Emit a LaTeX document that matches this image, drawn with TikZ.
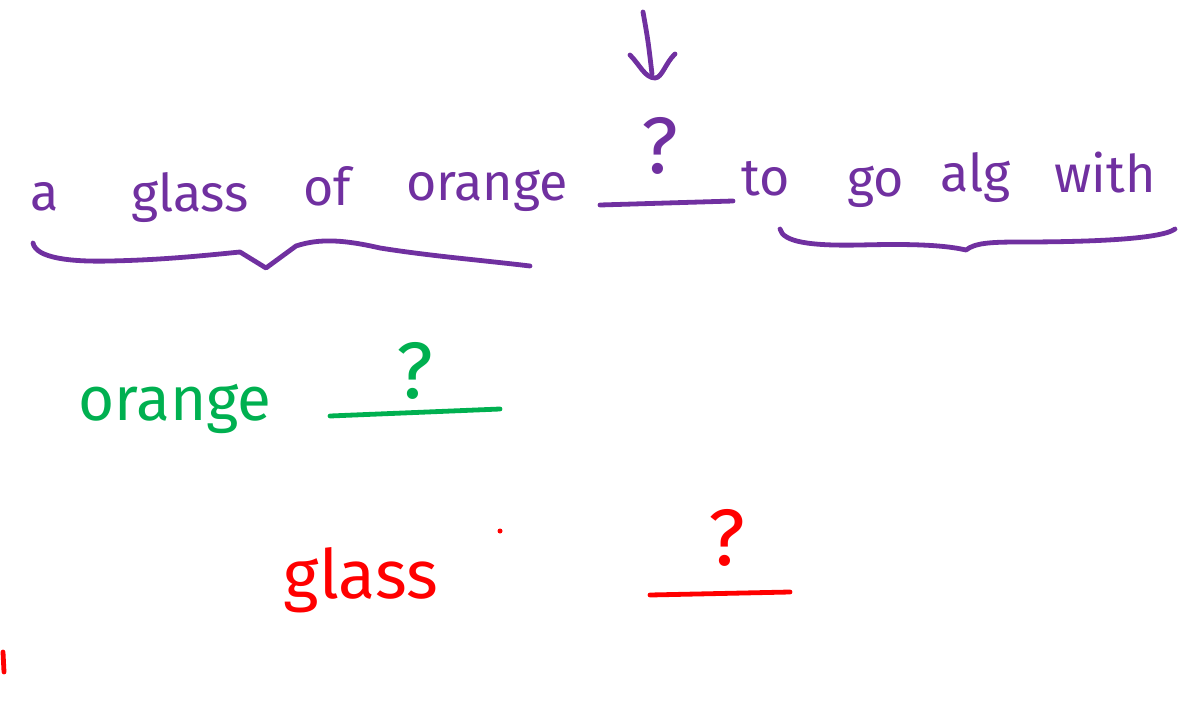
\documentclass[tikz,border=0pt]{standalone}
\usepackage{fontspec}
\setmainfont{Fira Sans}
\definecolor{pen}{HTML}{7030A0}
\definecolor{gpen}{HTML}{00B050}
\definecolor{rpen}{HTML}{FF0000}
\begin{document}
\begin{tikzpicture}[x=0.5pt,y=-0.5pt,
  stroke/.style={line width=2.4pt,line cap=round,line join=round},
  word/.style={anchor=base,inner sep=0pt,font=\fontsize{26}{30}\selectfont},
  bigword/.style={anchor=base,inner sep=0pt,font=\fontsize{31}{36}\selectfont},
  qmark/.style={anchor=base,inner sep=0pt,font=\fontsize{40}{44}\selectfont}]
\useasboundingbox (0,0) rectangle (1178,728);
% top line
\node[word,text=pen] (w1) at (45,210) {a};
\node[word,text=pen] (w2) at (190,211) {glass};
\node[word,text=pen] (w3) at (327,205) {of};
\node[word,text=pen] (w4) at (487,200) {orange};
\node[qmark,text=pen] (q1) at (660,173) {?};
\draw[stroke,pen] (600,205) -- (733,201);
\node[word,text=pen] (w5) at (766,195) {to};
\node[word,text=pen] (w6) at (876,196) {go};
\node[word,text=pen] (w7) at (976,191) {alg};
\node[word,text=pen] (w8) at (1105,192) {with};
% arrow
\draw[stroke,pen] (643,12) .. controls (648,40) .. (652,74);
\draw[stroke,pen] (630,55) .. controls (640,65) and (645,78) .. (655,78) .. controls (662,78) and (666,62) .. (675,54);
% braces
\draw[stroke,pen] (33,243) .. controls (36,258) and (70,262) .. (110,261)
  .. controls (160,260) and (200,256) .. (240,252) -- (266,268) -- (296,246)
  .. controls (320,238) and (345,240) .. (380,248) .. controls (430,256) and (480,260) .. (530,266);
\draw[stroke,pen] (780,229) .. controls (783,242) and (810,246) .. (860,245)
  .. controls (900,244) and (940,244) .. (966,250) .. controls (975,243) and (990,242) .. (1020,242)
  .. controls (1080,242) and (1160,240) .. (1175,229);
% green
\node[bigword,text=gpen] (g1) at (175,420) {orange};
\node[qmark,text=gpen] (q2) at (415,398) {?};
\draw[stroke,gpen] (330,416) -- (500,409);
% red
\node[bigword,text=rpen,font=\fontsize{34}{38}\selectfont] (r1) at (361,598) {glass};
\node[qmark,text=rpen] (q3) at (727,565) {?};
\draw[stroke,rpen] (650,595) -- (790,592);
\fill[rpen] (500,531) circle (2.5);
\draw[stroke,rpen] (3,652) -- (4,672);
\end{tikzpicture}
\end{document}
